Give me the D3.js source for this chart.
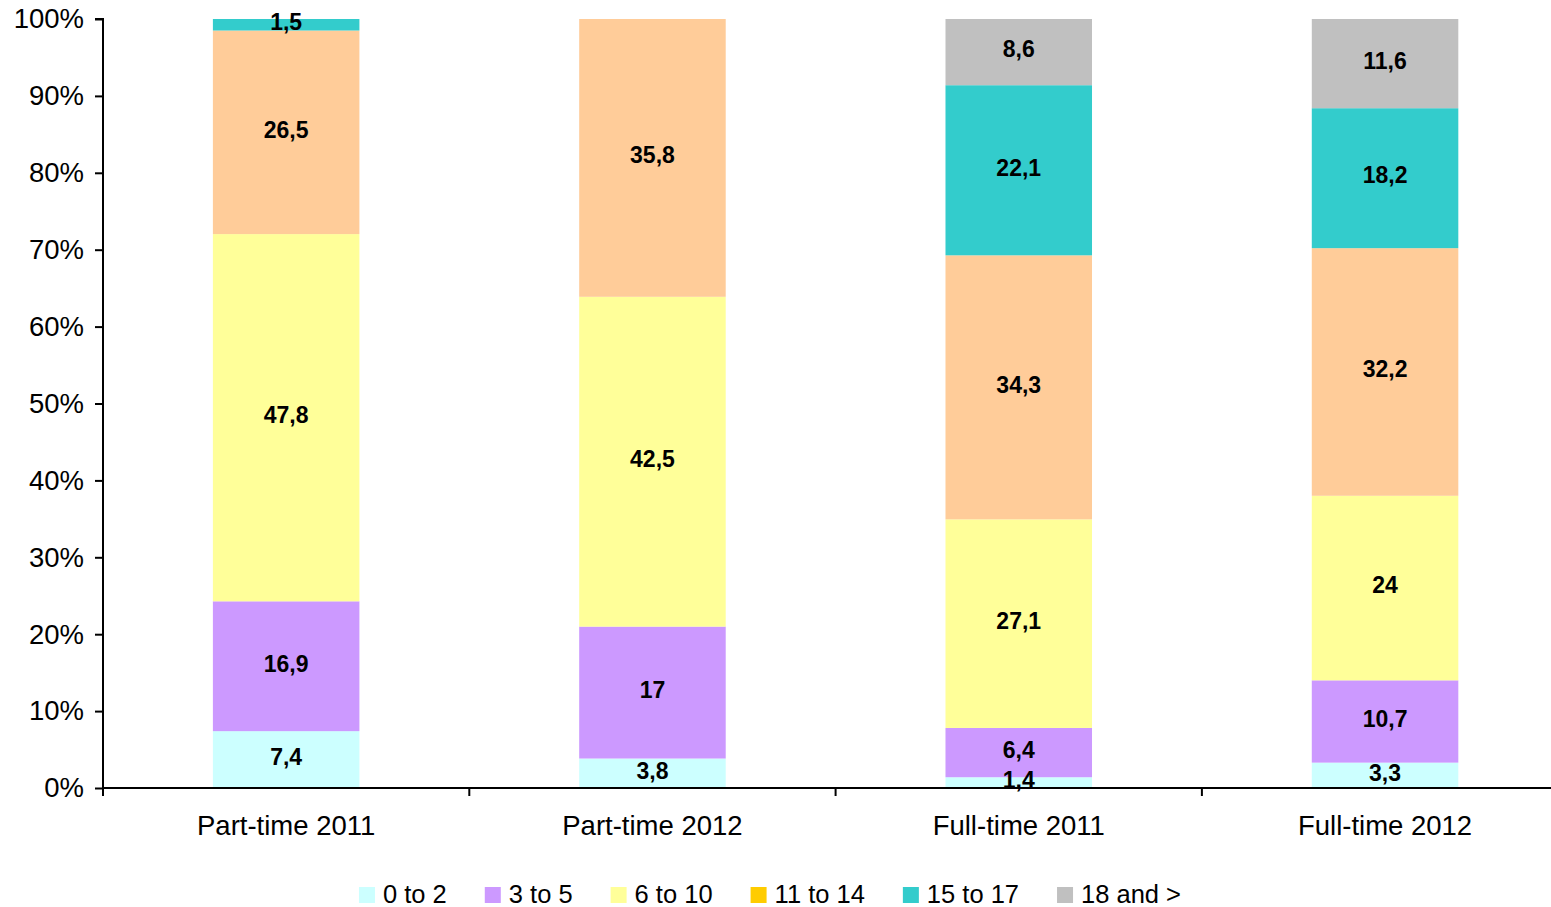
<!DOCTYPE html>
<html>
<head>
<meta charset="utf-8">
<script src="https://cdn.jsdelivr.net/npm/d3@7"></script>
<style>
  html, body { margin: 0; padding: 0; background: #fff; }
  svg { display: block; font-family: "Liberation Sans", Arial, sans-serif; }
</style>
</head>
<body>
<svg id="chart"></svg>
<script>
/* data */
const categories = ['Part-time 2011', 'Part-time 2012', 'Full-time 2011', 'Full-time 2012'];
const seriesNames = ['0 to 2', '3 to 5', '6 to 10', '11 to 14', '15 to 17', '18 and >'];
const s0to2 = [7.4, 3.8, 1.4, 3.3];
const s3to5 = [16.9, 17, 6.4, 10.7];
const s6to10 = [47.8, 42.5, 27.1, 24];
const s11to14 = [26.5, 35.8, 34.3, 32.2];
const s15to17 = [1.5, 0, 22.1, 18.2];
const s18plus = [0, 0, 8.6, 11.6];
const yTicks = [0, 10, 20, 30, 40, 50, 60, 70, 80, 90, 100];

/* colours (legend key of "11 to 14" differs from its bars, as in the original) */
const barColors = ['#CCFFFF', '#CC99FF', '#FFFF99', '#FFCC99', '#33CCCC', '#C0C0C0'];
const keyColors = ['#CCFFFF', '#CC99FF', '#FFFF99', '#FFCC00', '#33CCCC', '#C0C0C0'];

const width = 1551, height = 907;
const margin = { left: 103, top: 19, bottom: 788 };
const plotRight = 103 + 4 * 366.3; // plot runs a little past the window

const svg = d3.select('#chart').attr('width', width).attr('height', height);

/* build rows for the stack */
const allSeries = [s0to2, s3to5, s6to10, s11to14, s15to17, s18plus];
const rows = categories.map((c, i) => {
  const r = { cat: c };
  seriesNames.forEach((s, j) => { r[s] = allSeries[j][i]; });
  return r;
});

const stacked = d3.stack()
  .keys(seriesNames)
  .offset(d3.stackOffsetExpand)(rows);

/* scales */
const x = d3.scaleBand()
  .domain(categories)
  .range([margin.left, plotRight])
  .paddingInner(0.6)
  .paddingOuter(0.3);

const xCat = d3.scaleBand().domain(categories).range([margin.left, plotRight]);

const y = d3.scaleLinear().domain([0, 1]).range([margin.bottom, margin.top]);

/* bars */
const layers = svg.append('g')
  .selectAll('g')
  .data(stacked)
  .enter()
  .append('g')
  .attr('fill', (d, i) => barColors[i]);

layers.selectAll('rect')
  .data(d => d)
  .enter()
  .append('rect')
  .attr('x', d => x(d.data.cat))
  .attr('width', x.bandwidth())
  .attr('y', d => y(d[1]))
  .attr('height', d => y(d[0]) - y(d[1]));

/* value labels */
const labels = svg.append('g')
  .attr('font-weight', 'bold')
  .attr('font-size', 23)
  .attr('text-anchor', 'middle')
  .attr('fill', '#000');

stacked.forEach(layer => {
  layer.forEach(d => {
    const v = d.data[layer.key];
    if (!v) return;
    labels.append('text')
      .attr('x', x(d.data.cat) + x.bandwidth() / 2)
      .attr('y', (y(d[0]) + y(d[1])) / 2 - 3)
      .attr('dy', '0.36em')
      .text(String(v).replace('.', ','));
  });
});

/* y axis */
const yAxis = d3.axisLeft(y)
  .tickValues(yTicks.map(t => t / 100))
  .tickFormat(d => Math.round(d * 100) + '%')
  .tickSize(8)
  .tickPadding(11);

const gy = svg.append('g')
  .attr('transform', `translate(${margin.left},0)`)
  .call(yAxis);
gy.select('.domain').attr('stroke', '#000').attr('stroke-width', 2).attr('d', `M-8,${margin.top}H0V${margin.bottom}`);
gy.selectAll('.tick line').attr('stroke', '#000').attr('stroke-width', 2);
gy.selectAll('.tick text')
  .attr('font-size', 27.5)
  .attr('font-family', '"Liberation Sans", Arial, sans-serif')
  .attr('fill', '#000')
  .attr('dy', '0.32em');

/* x axis: labels centred on categories, ticks between them */
const xAxis = d3.axisBottom(xCat).tickSize(0).tickPadding(27);
const gx = svg.append('g')
  .attr('transform', `translate(0,${margin.bottom})`)
  .call(xAxis);
gx.select('.domain').remove();
gx.selectAll('.tick text')
  .attr('font-size', 27.5)
  .attr('font-family', '"Liberation Sans", Arial, sans-serif')
  .attr('fill', '#000')
  .attr('dy', '0.71em');

gx.append('line')
  .attr('x1', margin.left).attr('x2', plotRight)
  .attr('y1', 0).attr('y2', 0)
  .attr('stroke', '#000').attr('stroke-width', 2);

gx.selectAll('.sep')
  .data(categories)
  .enter()
  .append('line')
  .attr('class', 'sep')
  .attr('x1', d => xCat(d)).attr('x2', d => xCat(d))
  .attr('y1', 0).attr('y2', 8)
  .attr('stroke', '#000').attr('stroke-width', 2);

/* legend */
const legend = svg.append('g').attr('font-size', 25.5).attr('fill', '#000');
const items = legend.selectAll('g')
  .data(seriesNames)
  .enter()
  .append('g');

items.append('rect')
  .attr('width', 16).attr('height', 16)
  .attr('y', 887)
  .attr('fill', (d, i) => keyColors[i]);

items.append('text')
  .attr('x', 24)
  .attr('y', 903)
  .text(d => d);

let offset = 0;
const positions = [];
items.each(function () {
  positions.push(offset);
  const w = d3.select(this).select('text').node().getComputedTextLength();
  offset += 24 + w + 38;
});
const total = offset - 38;
const startX = 770 - total / 2;
items.attr('transform', (d, i) => `translate(${startX + positions[i]},0)`);
</script>
</body>
</html>
